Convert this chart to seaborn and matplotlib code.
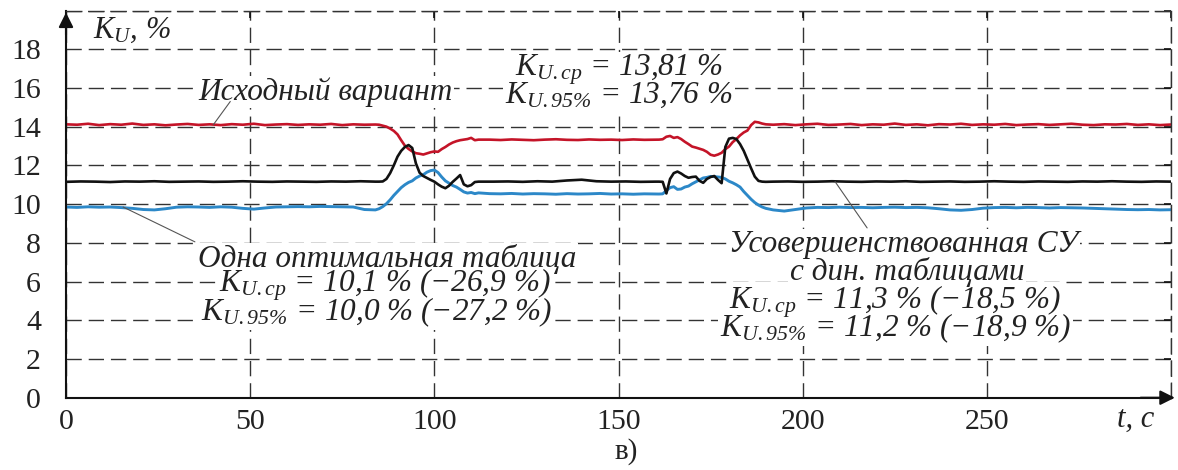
import numpy as np
import pandas as pd
import matplotlib
matplotlib.use("Agg")
import matplotlib.pyplot as plt
from matplotlib.patches import Rectangle
import seaborn as sns

# ---- time axes (s) ----
red_t = np.concatenate([np.arange(0, 85, 3), np.arange(85, 113), np.arange(115, 161, 3),
                        np.arange(161, 191), np.arange(192, 301, 3)])
blue_t = red_t.copy()
black_t = np.concatenate([np.arange(0, 85, 4), np.arange(85, 113), np.arange(116, 161, 4),
                          np.arange(161, 191), np.arange(192, 301, 4)])

# ---- K_U, % : original variant ----
red_v = [14.12, 14.10, 14.15, 14.08, 14.13, 14.10, 14.16, 14.09, 14.12, 14.07,
         14.11, 14.14, 14.09, 14.12, 14.08, 14.13, 14.10, 14.15, 14.08, 14.11,
         14.13, 14.09, 14.12, 14.10, 14.14, 14.08, 14.12, 14.10, 14.11,
         14.10, 14.05, 14.00, 13.90, 13.78, 13.60, 13.30, 13.02, 12.85, 12.72,
         12.63, 12.60, 12.56, 12.62, 12.68, 12.72, 12.70, 12.84, 12.95, 13.08,
         13.18, 13.25, 13.30, 13.33, 13.36, 13.42, 13.30, 13.33,
         13.33, 13.31, 13.34, 13.32, 13.30, 13.33, 13.35, 13.32, 13.31, 13.34,
         13.32, 13.33, 13.31, 13.34, 13.32, 13.33,
         13.33, 13.35, 13.48, 13.52, 13.42, 13.46, 13.36, 13.22, 13.10, 12.97,
         12.92, 12.86, 12.80, 12.70, 12.55, 12.50, 12.56, 12.65, 12.84, 12.97,
         13.20, 13.36, 13.55, 13.70, 13.80, 14.08, 14.25, 14.22, 14.16, 14.12,
         14.10, 14.13, 14.08, 14.12, 14.15, 14.09, 14.11, 14.14, 14.08, 14.12,
         14.10, 14.16, 14.09, 14.12, 14.07, 14.13, 14.11, 14.15, 14.09, 14.12,
         14.10, 14.14, 14.08, 14.11, 14.13, 14.09, 14.12, 14.15, 14.10, 14.08,
         14.12, 14.11, 14.14, 14.09, 14.12, 14.08, 14.11]

# ---- K_U, % : improved control system with dynamic tables ----
black_v = [11.15, 11.17, 11.16, 11.14, 11.17, 11.16, 11.18, 11.15, 11.16, 11.17,
           11.15, 11.16, 11.18, 11.16, 11.15, 11.17, 11.16, 11.15, 11.17, 11.16,
           11.18, 11.16,
           11.16, 11.17, 11.30, 11.60, 12.00, 12.45, 12.75, 12.95, 13.05, 12.90,
           12.10, 11.62, 11.45, 11.35, 11.25, 11.16, 11.02, 10.90, 10.82, 10.95,
           11.15, 11.32, 11.50, 11.02, 10.92, 10.98, 11.14, 11.16,
           11.16, 11.17, 11.15, 11.18, 11.16, 11.22, 11.26, 11.18, 11.16, 11.17,
           11.15, 11.16,
           11.16, 11.15, 10.55, 11.30, 11.60, 11.68, 11.58, 11.45, 11.36, 11.40,
           11.42, 11.20, 11.10, 11.30, 11.40, 11.45, 11.25, 11.08, 12.95, 13.38,
           13.42, 13.36, 13.10, 12.75, 12.30, 11.85, 11.42, 11.20, 11.16, 11.15,
           11.16, 11.17, 11.15, 11.16, 11.18, 11.16, 11.15, 11.17, 11.16, 11.18,
           11.15, 11.16, 11.17, 11.15, 11.16, 11.18, 11.16, 11.15, 11.17, 11.16,
           11.15, 11.17, 11.16, 11.18, 11.16, 11.15, 11.17, 11.16]

# ---- K_U, % : one optimal table ----
blue_v = [9.85, 9.83, 9.86, 9.84, 9.85, 9.82, 9.78, 9.72, 9.70, 9.76,
          9.84, 9.86, 9.85, 9.83, 9.86, 9.84, 9.78, 9.74, 9.80, 9.85,
          9.86, 9.87, 9.86, 9.88, 9.87, 9.86, 9.85, 9.72, 9.70,
          9.76, 9.87, 10.02, 10.22, 10.45, 10.65, 10.85, 11.00, 11.12, 11.20,
          11.35, 11.45, 11.52, 11.65, 11.73, 11.76, 11.63, 11.40, 11.20, 11.08,
          10.96, 10.88, 10.76, 10.63, 10.57, 10.60, 10.54, 10.58,
          10.54, 10.53, 10.55, 10.52, 10.54, 10.53, 10.51, 10.54, 10.52, 10.53,
          10.55, 10.52, 10.53, 10.51, 10.53, 10.52,
          10.52, 10.53, 10.70, 10.85, 10.90, 10.76, 10.78, 10.88, 10.93, 11.05,
          11.15, 11.25, 11.35, 11.38, 11.43, 11.42, 11.40, 11.38, 11.30, 11.18,
          11.10, 11.00, 10.88, 10.65, 10.45, 10.25, 10.08, 9.95, 9.85, 9.78,
          9.70, 9.64, 9.72, 9.80, 9.83, 9.82, 9.84, 9.82, 9.83, 9.81,
          9.83, 9.84, 9.82, 9.83, 9.81, 9.76, 9.70, 9.68, 9.72, 9.79,
          9.82, 9.83, 9.81, 9.83, 9.82, 9.80, 9.82, 9.81, 9.80, 9.78,
          9.76, 9.74, 9.72, 9.71, 9.72, 9.70, 9.71]

x_ticks = [0, 50, 100, 150, 200, 250, 300]
x_ticklabels = ["0", "50", "100", "150", "200", "250", ""]
y_ticks = list(range(0, 21, 2))
y_ticklabels = [str(v) for v in range(0, 19, 2)] + [""]

sns.set_theme(style="white")
plt.rcParams["font.family"] = ["Liberation Serif", "DejaVu Serif"]
plt.rcParams["mathtext.fontset"] = "custom"
plt.rcParams["mathtext.rm"] = "Liberation Serif:italic"
plt.rcParams["mathtext.it"] = "Liberation Serif:italic"
plt.rcParams["mathtext.bf"] = "Liberation Serif:bold"

fig = plt.figure(figsize=(11.78, 4.70), dpi=100)
ax = fig.add_axes([66 / 1178, 1 - 397.7 / 470, (1171 - 66) / 1178, (397.7 - 10.5) / 470])

df_red = pd.DataFrame({"t": red_t, "k": red_v})
df_blue = pd.DataFrame({"t": blue_t, "k": blue_v})
df_black = pd.DataFrame({"t": black_t, "k": black_v})

sns.lineplot(data=df_red, x="t", y="k", ax=ax, color="#c41428", lw=1.9, estimator=None)
sns.lineplot(data=df_blue, x="t", y="k", ax=ax, color="#2c88c8", lw=2.1, estimator=None)
sns.lineplot(data=df_black, x="t", y="k", ax=ax, color="#111111", lw=1.9, estimator=None)

ax.set_xlim(0, 300)
ax.set_ylim(0, 20)
ax.set_xticks(x_ticks)
ax.set_xticklabels(x_ticklabels)
ax.set_yticks(y_ticks)
ax.set_yticklabels(y_ticklabels)
ax.set_xlabel("")
ax.set_ylabel("")

dash = (0, (11, 5))
ax.set_axisbelow(True)
ax.grid(True, color="#333333", lw=1.0, linestyle=dash)
for side in ("top", "right"):
    ax.spines[side].set_linestyle(dash)
    ax.spines[side].set_color("#333333")
    ax.spines[side].set_linewidth(1.0)
for side in ("left", "bottom"):
    ax.spines[side].set_color("#111111")
    ax.spines[side].set_linewidth(1.5)

ax.tick_params(axis="both", which="both", direction="in", top=True, right=True,
               length=5, width=1.2, color="#111111", labelsize=21.5, labelcolor="#222222")
ax.tick_params(axis="x", pad=8)
ax.tick_params(axis="y", pad=18)

# axis arrows
ax.annotate("", xy=(0, 1.002), xycoords="axes fraction", xytext=(0, 0.93),
            arrowprops=dict(arrowstyle="-|>", color="#111111", lw=1.5, mutation_scale=22))
ax.annotate("", xy=(1.006, 0), xycoords="axes fraction", xytext=(0.97, 0),
            arrowprops=dict(arrowstyle="-|>", color="#111111", lw=1.5, mutation_scale=22))

ax.text(7.3, 19.0, r"$K_U$, %", ha="left", va="center", color="#222222", fontsize=22, style="italic")
ax.text(290.3, -1.1, "t, с", ha="center", va="center", color="#222222", fontsize=22, style="italic")
fig.text(626 / 1178, 1 - 452 / 470, "в)", ha="center", va="center", color="#222222", fontsize=21)

# curve captions, one text per line
captions = [
    (35.8, 15.4, "left", "Исходный вариант"),
    (150.2, 16.62, "center", r"$K_{U.ср}$ = 13,81 %"),
    (150.2, 15.23, "center", r"$K_{U.95\%}$ = 13,76 %"),
    (87.2, 6.77, "center", "Одна оптимальная таблица"),
    (86.6, 5.48, "center", r"$K_{U.ср}$ = 10,1 % (−26,9 %)"),
    (84.4, 4.0, "center", r"$K_{U.95\%}$ = 10,0 % (−27,2 %)"),
    (227.3, 7.55, "center", "Усовершенствованная СУ"),
    (228.3, 6.08, "center", "с дин. таблицами"),
    (225.1, 4.62, "center", r"$K_{U.ср}$ = 11,3 % (−18,5 %)"),
    (225.1, 3.15, "center", r"$K_{U.95\%}$ = 11,2 % (−18,9 %)"),
]
cap_artists = [ax.text(x, y, s, ha=ha, va="baseline", fontsize=22.5, style="italic",
                       color="#222222", zorder=4) for x, y, ha, s in captions]

# white backing under each caption line so the grid does not run through it
fig.canvas.draw()
renderer = fig.canvas.get_renderer()
inv = ax.transData.inverted()
for art in cap_artists:
    bb = art.get_window_extent(renderer)
    (x0, y0), (x1, y1) = inv.transform([(bb.x0 - 2, bb.y0 - 1), (bb.x1 + 2, bb.y1 + 1)])
    ax.add_patch(Rectangle((x0, y0), x1 - x0, y1 - y0, facecolor="white",
                           edgecolor="none", zorder=3))

# leader lines from the curves to their captions
ax.plot([40, 44.6], [14.1, 15.3], color="#555555", lw=0.8, zorder=5)
ax.plot([15.5, 35.0], [9.85, 8.05], color="#555555", lw=0.8, zorder=5)
ax.plot([208.8, 217.5], [11.16, 8.77], color="#555555", lw=0.8, zorder=5)

fig.savefig("out.png", dpi=100, facecolor="white")
